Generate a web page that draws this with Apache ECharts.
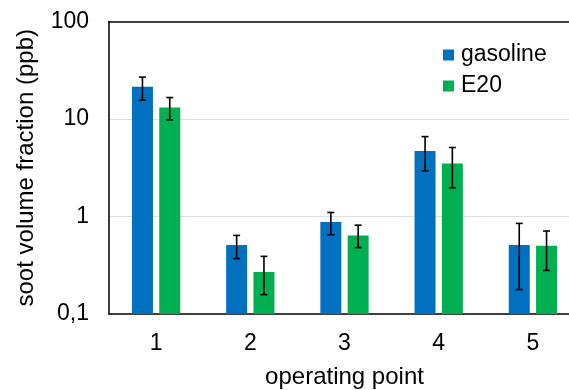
<!DOCTYPE html>
<html>
<head>
<meta charset="utf-8">
<script src="https://cdn.jsdelivr.net/npm/echarts@6/dist/echarts.min.js"></script>
<style>
  html, body { margin: 0; padding: 0; background: #fff; }
  #chart { width: 569px; height: 390px; }
</style>
</head>
<body>
<div id="chart"></div>
<script>
// Operating points on the x axis
const categories = ['1', '2', '3', '4', '5'];

// Mean soot volume fraction (ppb) and error-bar limits per fuel
const gasoline = [21.4, 0.51, 0.88, 4.7, 0.51];
const gasolineLow = [15.6, 0.37, 0.65, 2.94, 0.178];
const gasolineHigh = [26.9, 0.64, 1.10, 6.6, 0.85];

const e20 = [13.1, 0.27, 0.64, 3.5, 0.50];
const e20Low = [9.8, 0.158, 0.48, 1.97, 0.28];
const e20High = [16.6, 0.39, 0.815, 5.1, 0.71];

const FONT = '"Liberation Sans", Arial, sans-serif';
const FS = 23;
const TITLE_FS = 24;
const BAR_W = 21;
const BAR_GAP = 0.3;
const OFFSET = (BAR_W * (1 + BAR_GAP)) / 2;

function errorSeries(low, high, dir) {
  return {
    type: 'custom',
    z: 10,
    silent: true,
    data: categories.map((c, i) => [i, low[i], high[i]]),
    renderItem: function (params, api) {
      const lo = api.coord([api.value(0), api.value(1)]);
      const hi = api.coord([api.value(0), api.value(2)]);
      const x = lo[0] + dir * OFFSET;
      const cap = 3.5;
      const style = { stroke: '#000', lineWidth: 1.6 };
      return {
        type: 'group',
        children: [
          { type: 'line', shape: { x1: x, y1: hi[1], x2: x, y2: lo[1] }, style },
          { type: 'line', shape: { x1: x - cap, y1: hi[1], x2: x + cap, y2: hi[1] }, style },
          { type: 'line', shape: { x1: x - cap, y1: lo[1], x2: x + cap, y2: lo[1] }, style }
        ]
      };
    }
  };
}

const chart = echarts.init(document.getElementById('chart'));
chart.setOption({
  animation: false,
  textStyle: { fontFamily: FONT },
  grid: {
    left: 109, top: 21.5, bottom: 76, right: -11,
    show: false,
    outerBoundsMode: 'none'
  },
  legend: {
    orient: 'vertical',
    left: 438,
    top: 38.5,
    itemWidth: 11,
    itemHeight: 11,
    itemGap: 8,
    icon: 'rect',
    textStyle: { fontSize: FS, color: '#000', fontFamily: FONT, padding: [0, 0, 0, 2] },
    data: ['gasoline', 'E20']
  },
  xAxis: [{
    type: 'category',
    data: categories,
    name: 'operating point',
    nameLocation: 'middle',
    nameGap: 51,
    nameTextStyle: { fontSize: TITLE_FS, color: '#000' },
    axisLine: { lineStyle: { color: '#000', width: 1.5 } },
    axisTick: { show: false },
    axisLabel: { fontSize: FS, color: '#000', margin: 18 }
  }, {
    type: 'category',
    position: 'top',
    data: categories,
    axisLine: { lineStyle: { color: '#000', width: 1.5 } },
    axisTick: { show: false },
    axisLabel: { show: false }
  }],
  yAxis: {
    type: 'log',
    logBase: 10,
    min: 0.1,
    max: 100,
    startValue: 0.1,
    name: 'soot volume fraction (ppb)',
    nameLocation: 'middle',
    nameGap: 71,
    nameTextStyle: { fontSize: TITLE_FS, color: '#000' },
    axisLine: { show: true, lineStyle: { color: '#000', width: 1.5 } },
    axisTick: { show: false },
    axisLabel: {
      fontSize: FS,
      color: '#000',
      margin: 20,
      formatter: function (v) { return String(v).replace('.', ','); }
    },
    splitLine: {
      show: true,
      showMinLine: false,
      showMaxLine: false,
      lineStyle: { color: '#e0e0e0', width: 1.2 }
    }
  },
  series: [
    {
      name: 'gasoline',
      type: 'bar',
      data: gasoline,
      barWidth: BAR_W,
      barGap: (BAR_GAP * 100) + '%',
      itemStyle: { color: '#0070C0' }
    },
    {
      name: 'E20',
      type: 'bar',
      data: e20,
      barWidth: BAR_W,
      barGap: (BAR_GAP * 100) + '%',
      itemStyle: { color: '#00B050' }
    },
    errorSeries(gasolineLow, gasolineHigh, -1),
    errorSeries(e20Low, e20High, 1)
  ]
});
</script>
</body>
</html>
